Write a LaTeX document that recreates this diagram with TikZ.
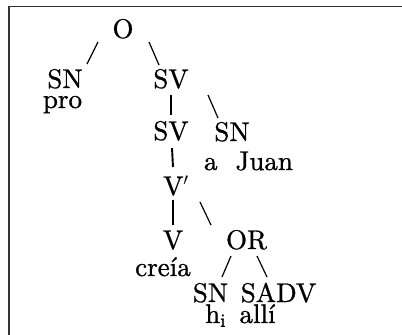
\documentclass[tikz,border=0pt]{standalone}
\usepackage{fontspec}
\setmainfont{lmroman10-regular.otf}[RawFeature={embolden=0.9}]
\usetikzlibrary{calc}
\begin{document}
\begin{tikzpicture}[x=1pt,y=-1pt,
  lab/.style={inner sep=0pt,anchor=base,font=\fontsize{27}{29}\selectfont},
  br/.style={line width=1.2pt},
  vr/.style={line width=1.9pt}]
\useasboundingbox (0,0) rectangle (402,335);
\fill[white] (0,0) rectangle (402,335);
% frame
\coordinate (fa) at (9,336);
\coordinate (fb) at (9,6.5);
\coordinate (fc) at (403,6.5);
\draw[line width=1.6pt,black!80] (fa) -- (fb) -- (fc);
% nodes
\node[lab] (O) at (123,38) {O};
\node[lab] (SN1) at (65,88) {SN};
\node[lab] (pro) at (62.5,108) {pro};
\node[lab] (SV1) at (171,88) {SV};
\node[lab] (SV2) at (171,140) {SV};
\node[lab] (SN2) at (232,141) {SN};
\node[lab] (juan) at (248.5,170) {a\ \ Juan};
\node[lab,anchor=base west] (Vp) at (163,195) {V$'$};
\node[lab] (V) at (173,249) {V};
\node[lab] (OR) at (246.5,249) {OR};
\node[lab] (creia) at (163,276) {creía};
\node[lab] (SN3) at (210.5,302) {SN};
\node[lab] (SADV) at (278.5,302) {SADV};
\node[lab,anchor=base west] (hi) at (205,323) {h\textsubscript{i}};
\node[lab] (alli) at (257.5,323) {allí};
% branches
\draw[br] ([shift={(-25,4)}]O.base) -- ([shift={(22,-24)}]SN1.base);
\draw[br] ([shift={(26,4)}]O.base) -- ([shift={(-12,-23)}]SV1.base);
\draw[vr] ([shift={(0,7)}]SV1.base) -- ([shift={(0,-25)}]SV2.base);
\draw[br] ([shift={(37,7)}]SV1.base) -- ([shift={(-14,-23)}]SN2.base);
\draw[vr] ([shift={(1,8)}]SV2.base) -- ([shift={(10,-28)}]Vp.base west);
\draw[vr] ([shift={(10,5)}]Vp.base west) -- ([shift={(0,-24)}]V.base);
\draw[br] ([shift={(37,7)}]Vp.base west) -- ([shift={(-35.5,-24)}]OR.base);
\draw[br] ([shift={(-15.5,7)}]OR.base) -- ([shift={(11.5,-25)}]SN3.base);
\draw[br] ([shift={(10.5,7)}]OR.base) -- ([shift={(-11.5,-25)}]SADV.base);
\end{tikzpicture}
\end{document}
